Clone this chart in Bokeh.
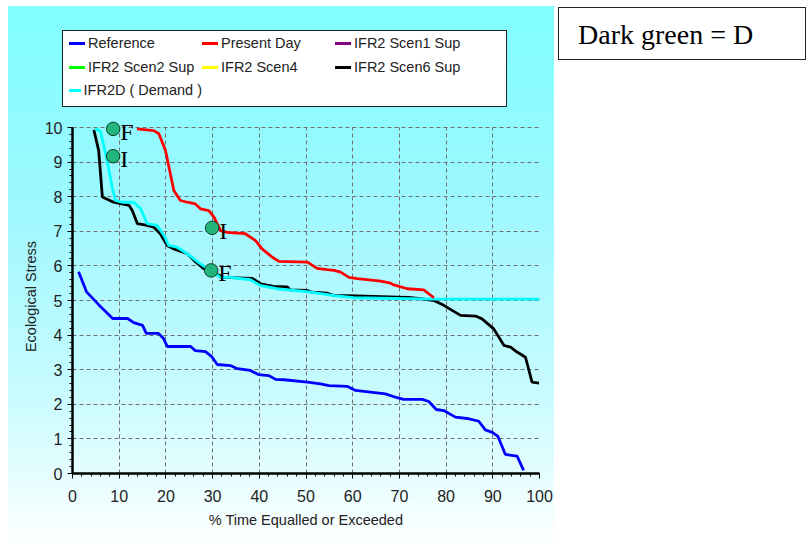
from bokeh.plotting import figure
from bokeh.layouts import row, column
from bokeh.models import Range1d, SingleIntervalTicker, Div
from bokeh.core.properties import value
from bokeh.embed import file_html
from bokeh.resources import INLINE

# ---------------- data ----------------
ref_x = [1.3, 3.0, 5.6, 8.6, 11.8, 13.1, 15.0, 15.8, 18.4, 19.5, 20.3, 25.3, 26.3, 28.5, 29.8, 31.0, 33.8, 35.3,
         38.1, 39.8, 42.0, 43.5, 45.3, 50.3, 53.1, 54.9, 58.8, 60.6, 63.8, 67.0, 69.5, 70.9, 74.9, 76.3, 77.9,
         79.5, 82.0, 84.5, 87.0, 88.4, 89.9, 91.1, 92.7, 95.2, 96.6]
ref_y = [5.83, 5.25, 4.88, 4.48, 4.48, 4.36, 4.28, 4.05, 4.05, 3.90, 3.67, 3.67, 3.55, 3.52, 3.38, 3.15, 3.12, 3.03,
         2.98, 2.86, 2.83, 2.72, 2.71, 2.64, 2.59, 2.54, 2.52, 2.40, 2.35, 2.30, 2.19, 2.14, 2.14, 2.08, 1.85,
         1.82, 1.63, 1.59, 1.51, 1.26, 1.19, 1.07, 0.55, 0.50, 0.09]

present_x = [13.8, 17.4, 18.5, 19.9, 21.7, 23.1, 24.6, 26.3, 27.4, 29.2, 30.3, 31.7, 33.1, 37.0, 39.2, 40.6,
             42.8, 44.2, 50.3, 52.4, 54.5, 56.0, 57.4, 59.2, 61.0, 66.0, 68.1, 68.8, 71.7, 75.2, 77.4]
present_y = [9.96, 9.91, 9.82, 9.34, 8.18, 7.89, 7.84, 7.79, 7.65, 7.60, 7.41, 7.02, 6.97, 6.93, 6.73, 6.49,
             6.25, 6.13, 6.11, 5.93, 5.89, 5.87, 5.82, 5.67, 5.63, 5.56, 5.50, 5.45, 5.34, 5.31, 5.08]

scen6_x = [4.57, 5.6, 6.4, 8.8, 12.1, 12.8, 13.9, 16.0, 17.4, 18.8, 20.3, 21.7, 24.6, 26.0, 28.1, 28.9, 32.4,
           38.5, 40.3, 43.0, 46.0, 46.6, 50.3, 51.2, 54.6, 55.8, 58.9, 64.5, 69.6, 72.0, 74.0, 77.4, 79.5,
           83.1, 86.3, 87.7, 90.2, 92.4, 93.8, 95.2, 97.0, 98.4, 99.9]
scen6_y = [9.93, 9.34, 7.99, 7.84, 7.75, 7.60, 7.22, 7.17, 7.12, 6.93, 6.59, 6.49, 6.35, 6.16, 5.92, 5.87, 5.67,
           5.64, 5.48, 5.41, 5.39, 5.31, 5.29, 5.24, 5.21, 5.15, 5.14, 5.12, 5.10, 5.09, 5.06, 5.00, 4.86,
           4.57, 4.55, 4.47, 4.18, 3.70, 3.65, 3.51, 3.36, 2.64, 2.61]

demand_x = [4.9, 6.0, 7.4, 8.5, 9.2, 10.6, 13.1, 14.6, 16.0, 18.1, 19.6, 20.6, 22.4, 24.6, 27.4, 28.9, 31.7,
            33.8, 38.1, 40.3, 43.8, 51.0, 56.0, 60.2, 77.4, 100.0]
demand_y = [9.96, 9.89, 9.05, 8.27, 7.89, 7.84, 7.84, 7.65, 7.22, 7.17, 6.88, 6.59, 6.54, 6.35, 6.06, 5.92, 5.67,
            5.67, 5.60, 5.43, 5.34, 5.24, 5.14, 5.08, 5.04, 5.04]

# scenarios not visible in the picture: they lie beneath the IFR2D curve
scen1_x, scen1_y = demand_x, demand_y
scen2_x, scen2_y = demand_x, demand_y
scen4_x, scen4_y = demand_x, demand_y

marker_x = [8.7, 8.7, 29.9, 29.7]
marker_y = [9.96, 9.17, 7.10, 5.87]
marker_text = ["F", "I", "I", "F"]

legend_labels = ["Reference", "Present Day", "IFR2 Scen1 Sup",
                 "IFR2 Scen2 Sup", "IFR2 Scen4", "IFR2 Scen6 Sup",
                 "IFR2D ( Demand )"]
legend_colors = ["#0000FF", "#FF0000", "#800080", "#00FF00", "#FFFF00", "#000000", "#00FFFF"]

note_text = "Dark green = D"

x_tick_interval = 10
y_tick_interval = 1
x_max = 100
y_max = 10

# ---------------- geometry (page pixels) ----------------
TOP_H = 113                    # height of the legend strip above the figure
PANEL_W = 554                  # width of the cyan panel column
FIG_H = 553 - TOP_H
FL, FR, FB, FT = 72, 539, 473, 119   # frame in page pixels (FT a bit above the 10 line)
PX_PER_Y = 34.6
y_top = (FB - FT) / PX_PER_Y

GRADIENT = "linear-gradient(to bottom, #80FFFF 0%, #9CF8FF 35%, #C6FBFF 70%, #FFFFFF 100%)"
SANS = "Liberation Sans"

p = figure(width=PANEL_W, height=FIG_H, output_backend="svg", toolbar_location=None,
           x_range=Range1d(0, x_max), y_range=Range1d(0, y_top),
           min_border_left=FL, min_border_right=PANEL_W - FR,
           min_border_top=FT - TOP_H, min_border_bottom=FIG_H - (FB - TOP_H))
p.border_fill_alpha = 0
p.background_fill_alpha = 0
p.styles = {"background-image": GRADIENT, "background-size": "546px 542px",
            "background-position": "8px %dpx" % (6 - TOP_H), "background-repeat": "no-repeat"}
p.outline_line_color = None

p.xaxis.ticker = SingleIntervalTicker(interval=x_tick_interval, num_minor_ticks=5)
p.yaxis.ticker = SingleIntervalTicker(interval=y_tick_interval, num_minor_ticks=5)
p.xaxis.bounds = (0, x_max)
p.yaxis.bounds = (0, y_max)
for g in (p.xgrid, p.ygrid):
    g.grid_line_color = "#707070"
    g.grid_line_dash = "4 3"
    g.grid_line_width = 1
try:
    p.xgrid.cross_bounds = (0, y_max)
    p.ygrid.cross_bounds = (0, x_max)
except Exception:
    pass

p.xaxis.axis_label = "% Time Equalled or Exceeded"
p.yaxis.axis_label = "Ecological Stress"
for ax in (p.xaxis, p.yaxis):
    ax.axis_line_color = "black"
    ax.axis_line_width = 2.5
    ax.major_tick_line_color = "black"
    ax.minor_tick_line_color = "black"
    ax.major_tick_out = 5
    ax.major_tick_in = 0
    ax.minor_tick_out = 3
    ax.minor_tick_in = 0
    ax.major_label_text_font = SANS
    ax.major_label_text_font_size = "16px"
    ax.major_label_text_color = "#222222"
    ax.axis_label_text_font = SANS
    ax.axis_label_text_font_size = "14.5px"
    ax.axis_label_text_font_style = "normal"
    ax.axis_label_text_color = "#222222"
p.xaxis.major_label_standoff = 11
p.yaxis.major_label_standoff = 5
p.xaxis.axis_label_standoff = 7
p.yaxis.axis_label_standoff = 3

lw = 2.8
hidden_lw = 1.2
p.line(scen1_x, scen1_y, line_color=legend_colors[2], line_width=hidden_lw)
p.line(scen2_x, scen2_y, line_color=legend_colors[3], line_width=hidden_lw)
p.line(scen4_x, scen4_y, line_color=legend_colors[4], line_width=hidden_lw)
p.line(scen6_x, scen6_y, line_color=legend_colors[5], line_width=lw)
p.line(demand_x, demand_y, line_color=legend_colors[6], line_width=lw)
p.line(present_x, present_y, line_color=legend_colors[1], line_width=lw)
p.line(ref_x, ref_y, line_color=legend_colors[0], line_width=lw)

p.scatter(marker_x, marker_y, size=13.5, fill_color="#22b67c", line_color="#0d3d2a", line_width=1)
p.text(marker_x, marker_y, text=marker_text, x_offset=7, y_offset=3,
       text_font=value("Liberation Serif"), text_font_size="24px",
       text_baseline="middle", text_align="left", text_color="black")

# ---------------- legend strip (HTML) ----------------
cells = []
for lab, col in zip(legend_labels, legend_colors):
    cells.append(
        '<div style="display:flex;align-items:center;height:23.5px;">'
        '<span style="display:inline-block;width:16px;height:3px;background:%s;margin-right:3px;"></span>'
        '<span>%s</span></div>' % (col, lab))
legend_html = (
    '<div style="box-sizing:border-box;margin:30px 0 0 62px;width:445px;height:77px;'
    'border:1px solid #222222;background:white;padding:1px 0 0 6px;'
    'display:grid;grid-template-columns:133px 133px 133px;grid-auto-rows:23.5px;'
    'font-family:\'Liberation Sans\';font-size:14.5px;color:#222222;white-space:nowrap;">'
    + "".join(cells) + '</div>')
top_strip = Div(text=legend_html, width=PANEL_W, height=TOP_H, margin=0,
                styles={"background-image": GRADIENT, "background-size": "546px 542px",
                        "background-position": "8px 6px", "background-repeat": "no-repeat",
                        "overflow": "hidden"})

# ---------------- side note box ----------------
note = Div(text=note_text, width=248, height=53, margin=(7, 0, 0, 4),
           styles={"box-sizing": "border-box", "border": "1.2px solid #222222",
                   "background-color": "white", "font-family": "Liberation Serif",
                   "font-size": "28px", "color": "black", "padding": "11px 0px 0px 19px",
                   "line-height": "1.15", "white-space": "nowrap"})

layout = row(column(top_strip, p, spacing=0), note, spacing=0)
open("out.html", "w").write(file_html(layout, INLINE))
